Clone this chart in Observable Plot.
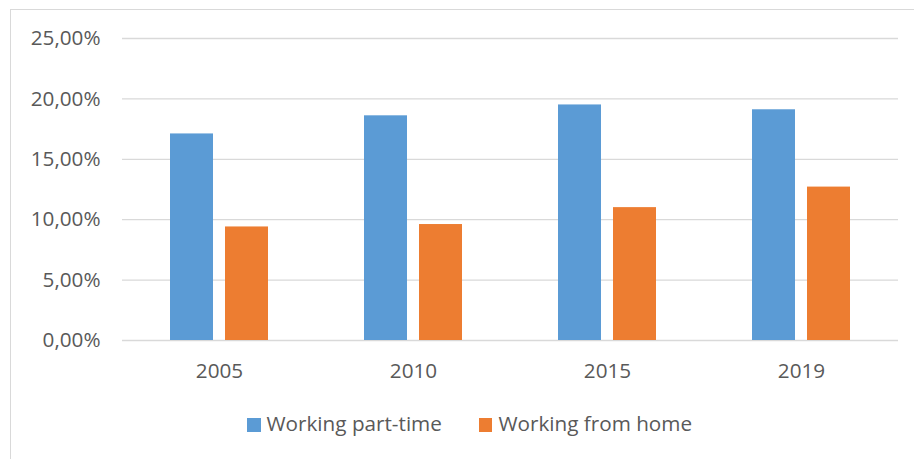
<!DOCTYPE html>
<html>
<head>
<meta charset="utf-8">
<script src="https://cdn.jsdelivr.net/npm/d3@7"></script>
<script src="https://cdn.jsdelivr.net/npm/@observablehq/plot@0.6"></script>
<style>
  html, body { margin: 0; padding: 0; background: #fff; }
  #wrap { position: relative; width: 914px; height: 459px; overflow: hidden; font-family: "Open Sans", sans-serif; color: #595959; }
  #frame { position: absolute; left: 10px; top: 9px; width: 1000px; height: 1000px; border-left: 1.5px solid #d9d9d9; border-top: 1.5px solid #d9d9d9; pointer-events: none; z-index: 2; }
  #chart { position: absolute; left: 0; top: 0; }
  #legend { position: absolute; left: 247px; top: 409px; display: flex; align-items: center; font-size: 20.7px; line-height: normal; white-space: nowrap; }
  .item { display: flex; align-items: center; }
  .sw { width: 13.5px; height: 13.5px; margin-right: 6px; position: relative; top: 2px; }
</style>
</head>
<body>
<div id="wrap">
  <div id="chart"></div>
  <div id="legend"></div>
  <div id="frame"></div>
</div>
<script>
const years = ["2005", "2010", "2015", "2019"];
const seriesNames = ["Working part-time", "Working from home"];
const partTime = [17.1, 18.6, 19.5, 19.1];
const fromHome = [9.4, 9.6, 11.0, 12.7];
const colors = ["#5b9bd5", "#ed7d31"];
const yTicks = [0, 5, 10, 15, 20, 25];

const data = [];
years.forEach((y, i) => {
  data.push({year: y, series: seriesNames[0], value: partTime[i]});
  data.push({year: y, series: seriesNames[1], value: fromHome[i]});
});

const chart = Plot.plot({
  width: 914,
  height: 390,
  marginTop: 38,
  marginBottom: 50,
  marginLeft: 121,
  marginRight: 15,
  style: {fontFamily: "'Open Sans', sans-serif", fontSize: "20.7px", color: "#595959", background: "transparent"},
  fx: {domain: years, padding: 0, axis: "bottom", label: null, tickSize: 0, tickPadding: 23},
  x: {domain: seriesNames, axis: null, paddingInner: 0.216, paddingOuter: 0.86},
  y: {domain: [0, 25], ticks: yTicks, tickSize: 0, tickPadding: 22, label: null,
      tickFormat: d => d.toFixed(2).replace(".", ",") + "%"},
  color: {domain: seriesNames, range: colors},
  marks: [
    Plot.ruleY(yTicks, {stroke: "#d9d9d9", strokeWidth: 1.3}),
    Plot.barY(data, {fx: "year", x: "series", y: "value", fill: "series"})
  ]
});
document.getElementById("chart").appendChild(chart);

const legend = document.getElementById("legend");
seriesNames.forEach((name, i) => {
  const item = document.createElement("div");
  item.className = "item";
  if (i > 0) item.style.marginLeft = "37px";
  const sw = document.createElement("span");
  sw.className = "sw";
  sw.style.background = colors[i];
  const label = document.createElement("span");
  label.textContent = name;
  item.appendChild(sw);
  item.appendChild(label);
  legend.appendChild(item);
});
</script>
</body>
</html>
